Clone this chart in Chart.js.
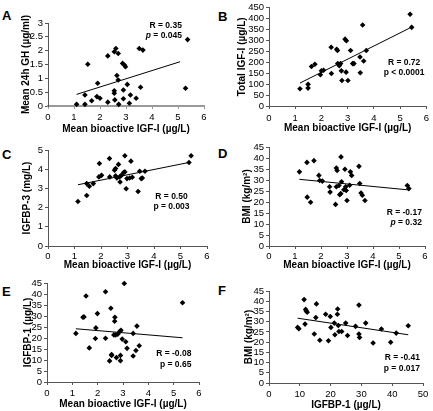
<!DOCTYPE html>
<html>
<head>
<meta charset="utf-8">
<script src="https://cdn.jsdelivr.net/npm/chart.js@4.4.1/dist/chart.umd.min.js"></script>
<style>
  body { margin: 0; background: #fff; width: 433px; height: 411px; position: relative; overflow: hidden; font-family: "Liberation Sans", Arial, sans-serif; }
  canvas { position: absolute; }
  .letter { position: absolute; font-weight: bold; font-size: 13px; line-height: 13px; color: #000; }
</style>
</head>
<body>
<div class="letter" style="left:2px;top:9px">A</div>
<div class="letter" style="left:218px;top:10px">B</div>
<div class="letter" style="left:2px;top:148px">C</div>
<div class="letter" style="left:218px;top:147px">D</div>
<div class="letter" style="left:2px;top:285px">E</div>
<div class="letter" style="left:218px;top:284px">F</div>

<canvas id="chartA" style="left:0;top:0" width="216" height="136"></canvas>
<canvas id="chartB" style="left:216px;top:0" width="217" height="136"></canvas>
<canvas id="chartC" style="left:0;top:136px" width="216" height="137"></canvas>
<canvas id="chartD" style="left:216px;top:136px" width="217" height="137"></canvas>
<canvas id="chartE" style="left:0;top:273px" width="216" height="138"></canvas>
<canvas id="chartF" style="left:216px;top:273px" width="217" height="138"></canvas>

<script>
// A: mean 24h GH vs bioactive IGF-I
const aX = [1.10, 1.42, 1.42, 1.53, 1.68, 1.88, 1.91, 2.00, 2.30, 2.30, 2.55, 2.61, 2.70, 2.55, 2.55, 2.57, 2.65, 2.70, 2.72, 2.87, 2.94, 2.98, 2.90, 2.90, 3.05, 3.13, 3.17, 3.39, 3.51, 3.65, 3.56, 5.29, 5.37];
const aY = [0.06, 0.06, 0.40, 1.51, 0.19, 0.34, 0.82, 0.28, 1.81, 0.14, 1.96, 2.08, 1.90, 0.46, 0.55, 0.22, 1.10, 0.94, 0.06, 1.54, 1.48, 1.42, 0.58, 0.26, 0.78, 0.10, 0.40, 0.28, 2.08, 2.02, 0.68, 0.64, 2.40];
const aFitX = [1.10, 5.08];
const aFitY = [0.42, 1.60];

// B: total IGF-I
const bX = [1.18, 1.49, 1.49, 1.62, 1.75, 1.96, 2.00, 2.08, 2.37, 2.38, 2.58, 2.61, 2.62, 2.68, 2.73, 2.76, 2.78, 2.90, 2.95, 2.94, 3.01, 3.11, 3.19, 3.24, 3.47, 3.48, 3.57, 3.61, 3.71, 5.38, 5.44];
const bY = [79, 99, 82, 181, 191, 143, 161, 164, 269, 149, 260, 254, 194, 184, 194, 161, 117, 306, 299, 155, 117, 254, 194, 194, 224, 152, 371, 206, 254, 420, 360];
const bFitX = [1.18, 5.37];
const bFitY = [105, 357];

// C: IGFBP-3
const cX = [1.13, 1.46, 1.46, 1.56, 1.71, 1.92, 1.94, 2.02, 2.32, 2.33, 2.51, 2.55, 2.55, 2.60, 2.66, 2.70, 2.72, 2.77, 2.85, 2.90, 2.90, 2.98, 2.95, 3.08, 3.13, 3.18, 3.40, 3.46, 3.52, 3.56, 3.66, 5.32, 5.40];
const cY = [2.32, 3.25, 2.63, 3.11, 3.25, 3.60, 4.30, 3.68, 4.56, 3.60, 3.95, 4.04, 3.65, 3.54, 4.25, 3.60, 3.33, 3.68, 3.82, 3.86, 4.70, 3.51, 2.98, 3.54, 4.42, 3.58, 2.84, 3.89, 3.51, 3.54, 3.89, 4.35, 4.70];
const cFitX = [1.13, 5.28];
const cFitY = [3.19, 4.34];

// D: BMI vs bioactive IGF-I
const dX = [1.17, 1.46, 1.47, 1.60, 1.73, 1.92, 1.95, 2.05, 2.33, 2.35, 2.59, 2.59, 2.62, 2.56, 2.69, 2.72, 2.76, 2.77, 2.79, 2.88, 2.92, 2.95, 2.97, 3.00, 3.10, 3.13, 3.18, 3.46, 3.49, 3.54, 3.59, 3.69, 5.32, 5.38];
const dY = [33.7, 38.0, 22.2, 19.9, 38.8, 32.1, 29.8, 29.5, 26.9, 24.5, 26.9, 35.4, 34.3, 18.9, 27.5, 23.3, 23.8, 40.5, 29.2, 25.6, 34.9, 26.9, 25.2, 20.7, 27.6, 33.7, 32.1, 36.2, 28.4, 24.1, 23.1, 20.7, 27.5, 26.1];
const dFitX = [1.17, 5.36];
const dFitY = [30.3, 25.5];

// E: IGFBP-1
const eX = [1.14, 1.42, 1.46, 1.54, 1.67, 1.93, 1.91, 1.99, 2.31, 2.31, 2.52, 2.47, 2.55, 2.55, 2.64, 2.67, 2.68, 2.71, 2.74, 2.79, 2.87, 2.92, 2.90, 2.90, 2.97, 3.05, 3.11, 3.16, 3.40, 3.40, 3.51, 3.55, 3.64, 5.35];
const eY = [22.1, 29.4, 29.6, 39.1, 15.5, 24.6, 19.8, 31.1, 19.9, 41.0, 33.5, 9.6, 12.5, 12.1, 21.4, 27.6, 29.4, 21.4, 11.1, 21.7, 22.9, 23.5, 12.1, 9.7, 19.5, 44.8, 18.3, 15.3, 22.1, 11.8, 14.3, 25.4, 16.5, 36.0];
const eFitX = [1.14, 5.35];
const eFitY = [24.2, 20.1];

// F: BMI vs IGFBP-1
const fX = [9.3, 9.7, 11.4, 11.7, 11.9, 12.1, 12.4, 14.7, 15.2, 15.4, 16.5, 18.4, 19.3, 19.9, 20.1, 21.2, 21.4, 22.2, 22.3, 22.5, 22.7, 23.6, 24.9, 25.5, 28.1, 29.2, 29.2, 29.4, 31.4, 33.8, 36.5, 39.5, 41.3, 45.2];
const fY = [27.2, 26.5, 40.8, 28.8, 36.0, 35.2, 34.6, 24.0, 32.0, 38.7, 20.9, 33.6, 20.7, 32.5, 27.2, 29.3, 23.6, 33.6, 36.2, 28.1, 25.2, 25.2, 29.3, 23.2, 27.7, 38.1, 24.0, 22.3, 29.3, 19.6, 26.4, 19.9, 24.4, 28.0];
const fFitX = [9.3, 45.2];
const fFitY = [31.7, 23.6];

const bioTitle = "Mean bioactive IGF-I (\u00b5g/L)";

const tickFont = { family: "Liberation Sans", size: 9.5 };
const titleFont = { family: "Liberation Sans", size: 10, weight: "bold" };
const statFont = "Liberation Sans";

// draws the R / p text inside the plot
const statsPlugin = {
    id: "stats",
    afterDatasetsDraw(chart) {
        const st = chart.config._stats;
        if (!st) return;
        const ctx = chart.ctx;
        const xs = chart.scales.x, ys = chart.scales.y;
        const px = xs.getPixelForValue(st.x);
        ctx.save();
        ctx.fillStyle = "#000";
        ctx.textBaseline = "middle";
        st.lines.forEach((line, i) => {
            const py = ys.getPixelForValue(st.y[i]);
            // line is a list of [text, italic]
            const parts = line.map(([t, it]) => {
                ctx.font = (it ? "italic " : "") + "bold 8.5px " + statFont;
                return { t, it, w: ctx.measureText(t).width };
            });
            const total = parts.reduce((s, p) => s + p.w, 0);
            let x = st.align === "right" ? px - total : px - total / 2;
            parts.forEach((p) => {
                ctx.font = (p.it ? "italic " : "") + "bold 8.5px " + statFont;
                ctx.textAlign = "left";
                ctx.fillText(p.t, x, py);
                x += p.w;
            });
        });
        ctx.restore();
    },
};

function makePanel(id, p) {
    const pts = p.x.map((v, i) => ({ x: v, y: p.y[i] }));
    const fit = p.fitX.map((v, i) => ({ x: v, y: p.fitY[i] }));
    const chart = new Chart(document.getElementById(id), {
        type: "scatter",
        data: {
            datasets: [
                {
                    data: pts,
                    pointStyle: "rectRot",
                    pointRadius: 2.8,
                    backgroundColor: "#000",
                    borderColor: "#000",
                    borderWidth: 0,
                    clip: false,
                },
                {
                    data: fit,
                    showLine: true,
                    pointRadius: 0,
                    borderColor: "#000",
                    borderWidth: 1,
                },
            ],
        },
        options: {
            responsive: false,
            animation: false,
            events: [],
            layout: { padding: { left: 0, top: p.padTop, right: p.padRight, bottom: 0 } },
            plugins: { legend: { display: false }, tooltip: { enabled: false } },
            scales: {
                x: {
                    type: "linear",
                    min: p.xMin, max: p.xMax,
                    ticks: { stepSize: p.xStep, font: tickFont, color: "#000", padding: p.xTickPad, maxRotation: 0, autoSkip: false, callback: (v) => String(v) },
                    grid: { drawOnChartArea: false, tickLength: 3, color: p.xAxisColor || "#555", tickWidth: 1 },
                    border: { color: p.xAxisColor || "#555", width: p.xAxisWidth || 1 },
                    title: { display: true, text: p.xTitle, font: titleFont, color: "#000", padding: { top: 0, bottom: p.xTitlePad } },
                    afterFit: (s) => { s.height = p.xh; },
                },
                y: {
                    type: "linear",
                    min: p.yMin, max: p.yMax,
                    ticks: { stepSize: p.yStep, font: tickFont, color: "#000", padding: 2, autoSkip: false, callback: (v) => String(v) },
                    grid: { drawOnChartArea: false, tickLength: 3, color: "#555" },
                    border: { color: "#555", width: 1 },
                    title: { display: true, text: p.yTitle, font: titleFont, color: "#000", padding: { top: p.yTitlePad, bottom: 0 } },
                    afterFit: (s) => { s.width = p.yw; },
                },
            },
        },
        plugins: [statsPlugin],
    });
    chart.config._stats = p.stats;
    chart.draw();
}

makePanel("chartA", {
    x: aX, y: aY, fitX: aFitX, fitY: aFitY,
    xMin: 0, xMax: 6, xStep: 1, yMin: 0, yMax: 3, yStep: 0.5,
    xTitle: bioTitle, yTitle: "Mean 24h GH (\u00b5g/ml)",
    yw: 48, xh: 30, padTop: 23, padRight: 12, xTickPad: 3, xTitlePad: 1, yTitlePad: 20,
    xAxisColor: "#999", xAxisWidth: 2,
    stats: { align: "right", x: 5.15, y: [2.89, 2.53], lines: [[["R = 0.35", false]], [["p", true], [" = 0.045", false]]] },
});

makePanel("chartB", {
    x: bX, y: bY, fitX: bFitX, fitY: bFitY,
    xMin: 0, xMax: 6, xStep: 1, yMin: 0, yMax: 450, yStep: 50,
    xTitle: bioTitle, yTitle: "Total IGF-I (\u00b5g/L)",
    yw: 53, xh: 30, padTop: 6, padRight: 6, xTickPad: 4, xTitlePad: 2, yTitlePad: 20,
    stats: { align: "center", x: 5.15, y: [198, 153], lines: [[["R = 0.72", false]], [["p < 0.0001", false]]] },
});

makePanel("chartC", {
    x: cX, y: cY, fitX: cFitX, fitY: cFitY,
    xMin: 0, xMax: 6, xStep: 1, yMin: 0, yMax: 5, yStep: 1,
    xTitle: bioTitle, yTitle: "IGFBP-3 (mg/L)",
    yw: 48, xh: 27, padTop: 14, padRight: 9, xTickPad: 2, xTitlePad: 2, yTitlePad: 21,
    stats: { align: "center", x: 4.66, y: [2.55, 2.03], lines: [[["R = 0.50", false]], [["p = 0.003", false]]] },
});

makePanel("chartD", {
    x: dX, y: dY, fitX: dFitX, fitY: dFitY,
    xMin: 0, xMax: 6, xStep: 1, yMin: 0, yMax: 45, yStep: 5,
    xTitle: bioTitle, yTitle: "BMI (kg/m\u00b2)",
    yw: 53, xh: 27, padTop: 11, padRight: 8, xTickPad: 2, xTitlePad: 2, yTitlePad: 25,
    stats: { align: "right", x: 5.88, y: [15.1, 10.5], lines: [[["R = -0.17", false]], [["p", true], [" = 0.32", false]]] },
});

makePanel("chartE", {
    x: eX, y: eY, fitX: eFitX, fitY: eFitY,
    xMin: 0, xMax: 6, xStep: 1, yMin: 0, yMax: 45, yStep: 5,
    xTitle: bioTitle, yTitle: "IGFBP-1 (\u00b5g/L)",
    yw: 47, xh: 29, padTop: 10, padRight: 17, xTickPad: 3, xTitlePad: 1, yTitlePad: 22,
    stats: { align: "right", x: 5.70, y: [12.9, 7.7], lines: [[["R = -0.08", false]], [["p = 0.65", false]]] },
});

makePanel("chartF", {
    x: fX, y: fY, fitX: fFitX, fitY: fFitY,
    xMin: 0, xMax: 50, xStep: 10, yMin: 0, yMax: 45, yStep: 5,
    xTitle: "IGFBP-1 (\u00b5g/L)", yTitle: "BMI (kg/m\u00b2)",
    yw: 53, xh: 28, padTop: 18, padRight: 10, xTickPad: 3, xTitlePad: 0, yTitlePad: 27,
    stats: { align: "right", x: 49.0, y: [12.2, 6.8], lines: [[["R = -0.41", false]], [["p = 0.017", false]]] },
});
</script>
</body>
</html>
